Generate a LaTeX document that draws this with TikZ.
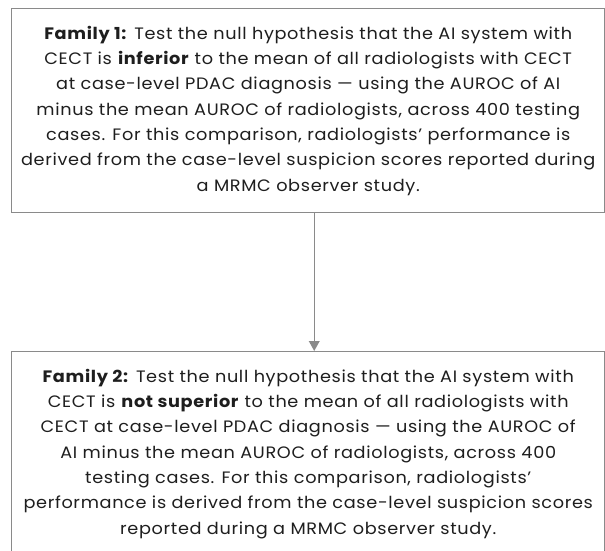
\documentclass[tikz,border=0pt]{standalone}
\usepackage{fontspec}
\setmainfont[FakeStretch=1.07,LetterSpace=4]{Poppins}
\usetikzlibrary{arrows.meta,calc}
\definecolor{edgegray}{HTML}{8A8A8A}
\definecolor{inkgray}{HTML}{1E1E1E}
\begin{document}
\begin{tikzpicture}[x=0.75pt,y=-0.75pt,
  familybox/.style={draw=edgegray, line width=1.1pt, fill=white,
    align=center, inner sep=0pt, text=inkgray,
    minimum width=593*0.75pt, minimum height=204*0.75pt,
    font=\fontsize{12.4pt}{19pt}\selectfont},
  flow/.style={draw=edgegray, line width=1.1pt,
    -{Triangle[length=7.5pt,width=8pt]}}]
\clip (0,0) rectangle (605,550);
\node[familybox, anchor=north west] (fam1) at (11,8)
  {\textbf{Family 1:} Test the null hypothesis that the AI system with\\
   CECT is \textbf{inferior} to the mean of all radiologists with CECT\\
   at case-level PDAC diagnosis — using the AUROC of AI\\
   minus the mean AUROC of radiologists, across 400 testing\\
   cases. For this comparison, radiologists’ performance is\\
   derived from the case-level suspicion scores reported during\\
   a MRMC observer study.};
\node[familybox, anchor=north west] (fam2) at (11,351)
  {\textbf{Family 2:} Test the null hypothesis that the AI system with\\
   CECT is \textbf{not superior} to the mean of all radiologists with\\
   CECT at case-level PDAC diagnosis — using the AUROC of\\
   AI minus the mean AUROC of radiologists, across 400\\
   testing cases. For this comparison, radiologists’\\
   performance is derived from the case-level suspicion scores\\
   reported during a MRMC observer study.};
% the connector sits slightly right of the box centres
\coordinate (linkfrom) at ($(fam1.south)+(6,0)$);
\coordinate (linkto) at ($(fam2.north)+(6,0)$);
\draw[flow] (linkfrom) -- (linkto);
\end{tikzpicture}
\end{document}
